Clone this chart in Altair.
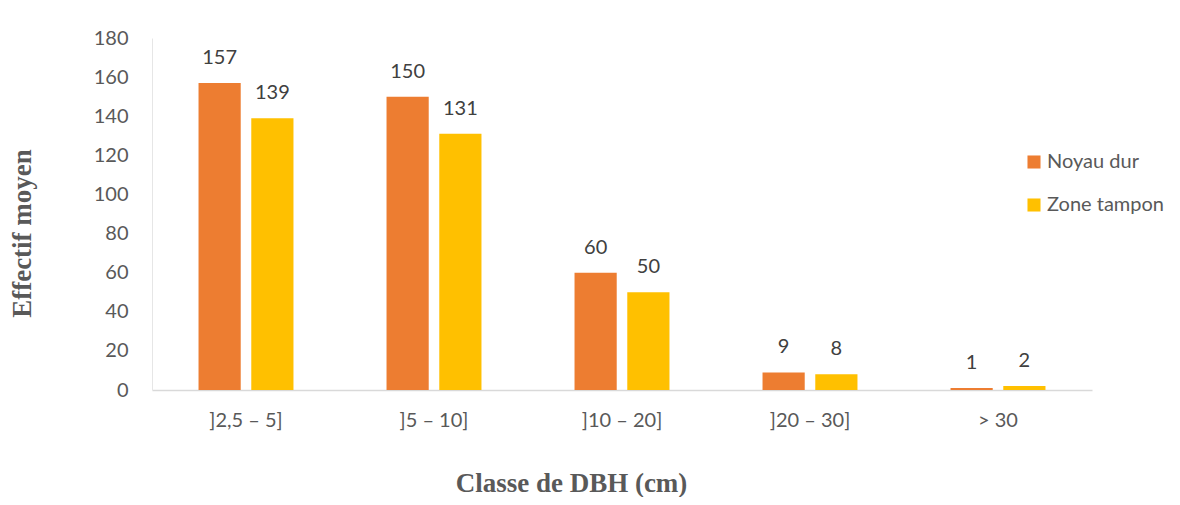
import altair as alt
import pandas as pd

categories = ["]2,5 – 5]", "]5 – 10]", "]10 – 20]", "]20 – 30]", "> 30"]
noyau_dur = [157, 150, 60, 9, 1]
zone_tampon = [139, 131, 50, 8, 2]
series = ["Noyau dur", "Zone tampon"]
colors = ["#ED7D31", "#FFC000"]

rows = []
for c, a, b in zip(categories, noyau_dur, zone_tampon):
    rows.append({"classe": c, "serie": series[0], "val": a})
    rows.append({"classe": c, "serie": series[1], "val": b})
df = pd.DataFrame(rows)

FONT = "Lato"
FS = 20
TFS = 27

x = alt.X(
    "classe:N", sort=categories,
    scale=alt.Scale(paddingInner=0.495, paddingOuter=0.2475),
    axis=alt.Axis(
        title="Classe de DBH (cm)", titleFont="Liberation Serif", titleFontSize=TFS,
        titleFontWeight="bold", titleColor="#595959", titleX=419, titleY=101,
        titleBaseline="alphabetic", titleAlign="center",
        labelFont=FONT, labelFontSize=FS, labelColor="#595959", labelAngle=0,
        labelPadding=20, ticks=False, domainColor="#d9d9d9", domainWidth=1.5,
    ),
)
xoff = alt.XOffset("serie:N", sort=series,
                   scale=alt.Scale(paddingInner=0.2, paddingOuter=0))
y = alt.Y(
    "val:Q", scale=alt.Scale(domain=[0, 180], nice=False),
    axis=alt.Axis(
        title="Effectif moyen", titleFont="Liberation Serif", titleFontSize=TFS,
        titleFontWeight="bold", titleColor="#595959", titleX=-130, titleY=195,
        titleAlign="center", titleBaseline="middle",
        values=list(range(0, 181, 20)), labelFont=FONT, labelFontSize=FS,
        labelColor="#595959", labelPadding=24, ticks=False, grid=False,
        domainColor="#e6e6e6", domainWidth=1,
    ),
)

color = alt.Color(
    "serie:N", sort=series,
    scale=alt.Scale(domain=series, range=colors),
    legend=alt.Legend(
        title=None, orient="none", legendX=872, legendY=114,
        symbolType="square", symbolSize=170, symbolStrokeWidth=0,
        labelFont=FONT, labelFontSize=FS, labelColor="#595959",
        rowPadding=23, labelOffset=3,
    ),
)

bars = alt.Chart(df).mark_bar().encode(x=x, xOffset=xoff, y=y, color=color)
labels = alt.Chart(df).mark_text(
    dy=-25, font=FONT, fontSize=FS, color="#404040", baseline="middle"
).encode(x=x, xOffset=xoff, y=y, text="val:Q")

chart = alt.layer(bars, labels).properties(
    width=940, height=352,
    autosize=alt.AutoSizeParams(type="none"),
    padding={"left": 144, "top": 30, "right": 78, "bottom": 107},
).configure(background="white").configure_view(stroke=None)

chart.save("out.html", embed_options={"renderer": "svg", "actions": False})
